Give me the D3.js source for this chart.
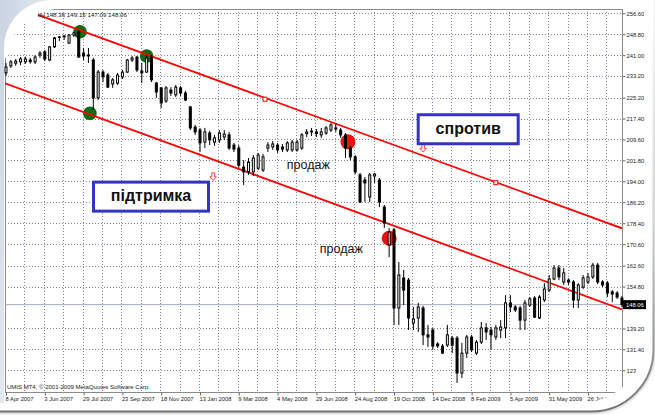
<!DOCTYPE html>
<html><head><meta charset="utf-8">
<script src="https://cdnjs.cloudflare.com/ajax/libs/d3/7.8.5/d3.min.js"></script>
<style>html,body{margin:0;padding:0;background:#fff;overflow:hidden}</style>
</head><body><svg id="c" width="655" height="415"></svg>
<script>
// ---- data (weekly candles, first bar = week of 8 Apr 2007) ----
const opens  = [234.4,237.0,238.0,238.5,238.5,239.2,238.5,241.1,242.2,239.2,244.1,247.6,247.8,245.5,248.5,249.6,241.8,240.7,239.2,225.1,234.7,233.6,230.3,230.6,232.9,234.7,239.2,240.3,235.1,234.7,240.3,230.6,228.8,223.9,228.0,226.2,228.8,226.9,221.7,214.2,213.1,208.6,212.0,208.6,209.4,210.5,211.3,207.5,206.4,199.3,197.5,197.5,198.9,198.2,206.4,206.8,207.5,206.8,205.7,205.7,205.7,206.4,211.8,212.4,212.4,211.3,212.0,213.1,213.5,213.1,211.3,206.4,203.1,196.4,194.5,188.2,196.0,194.5,184.4,170.3,175.9,146.8,158.0,157.2,141.2,143.1,146.8,136.8,138.6,133.4,132.6,133.0,135.6,135.6,122.6,130.0,136.0,130.0,134.1,139.4,138.6,136.0,138.6,139.4,148.7,147.2,146.8,142.3,147.9,150.5,143.1,149.8,153.5,157.6,161.7,156.5,157.2,156.5,149.8,154.6,156.5,158.4,162.8,156.5,156.1,152.8,152.4,150.5];
const highs  = [238.1,239.2,239.6,240.3,240.5,240.0,241.0,242.5,242.9,244.4,247.8,248.1,248.5,248.9,249.6,250.4,243.7,243.7,239.95,235.5,235.5,234.4,232.5,234.4,235.5,239.6,240.7,240.7,238.1,241.1,241.1,231.0,229.1,229.5,229.1,229.9,229.5,227.7,222.1,215.0,213.9,213.9,212.8,211.3,213.1,213.1,212.4,208.3,207.5,201.9,202.7,203.8,204.6,204.2,208.6,209.0,208.3,207.9,209.0,209.4,209.4,212.0,213.5,213.9,213.5,213.9,214.6,215.7,215.4,213.9,212.0,207.2,203.8,197.1,195.6,197.1,197.1,195.2,185.2,176.6,176.6,163.9,161.0,158.0,147.2,148.7,147.6,140.5,139.4,134.1,133.4,140.5,136.4,136.4,133.8,136.8,136.8,134.9,141.6,141.2,139.7,140.5,142.3,151.6,151.6,147.9,147.6,149.8,150.9,151.3,151.6,156.1,159.1,162.8,162.8,161.7,157.9,157.2,156.1,159.1,159.9,163.6,163.6,157.2,156.9,153.5,153.1,151.3];
const lows   = [233.2,236.2,237.0,237.3,237.8,237.8,237.7,240.0,238.8,238.8,243.7,246.3,246.7,245.2,247.8,239.95,239.2,238.1,220.6,224.3,231.0,228.8,228.8,229.9,232.1,234.4,238.5,234.7,230.6,234.4,231.0,225.1,221.3,223.2,225.8,225.4,225.8,223.9,213.1,211.3,204.9,206.4,207.5,207.2,208.3,209.4,205.7,204.9,199.0,192.6,196.4,196.0,198.2,197.5,204.9,205.7,204.6,204.9,204.9,204.9,205.0,205.7,210.5,210.9,210.5,210.2,211.3,212.4,212.4,210.2,202.7,201.9,196.7,185.9,186.3,186.3,193.4,184.4,176.6,165.8,140.5,140.5,147.9,138.6,138.6,137.9,133.0,132.3,131.2,131.9,129.7,132.3,130.0,118.9,120.7,128.2,130.4,129.3,133.4,134.9,131.2,134.9,135.6,135.6,145.3,145.3,138.6,138.6,147.2,143.1,142.7,149.0,152.8,157.2,157.2,155.4,155.4,146.8,146.8,153.9,155.7,157.6,155.7,154.6,150.9,149.0,150.2,147.2];
const closes = [236.6,238.5,238.8,239.6,239.6,238.6,240.3,241.8,239.6,244.1,247.4,247.8,248.2,248.5,249.3,240.3,240.7,241.1,225.1,234.7,232.9,229.1,231.8,233.6,234.7,239.2,239.95,235.5,234.4,239.95,231.8,227.3,223.2,228.8,226.9,229.1,226.9,224.3,213.9,212.4,208.3,212.4,209.4,210.2,212.0,211.6,206.4,206.0,200.0,197.5,201.2,202.7,203.8,203.1,207.5,207.9,205.7,206.0,208.3,208.6,208.6,211.3,212.4,212.7,211.8,212.4,213.9,215.0,213.9,211.3,206.4,203.1,197.5,186.3,193.4,196.4,196.7,186.3,178.5,175.1,146.8,159.1,153.5,143.1,142.7,147.2,136.8,136.0,132.6,132.7,130.0,136.8,133.0,122.6,130.0,136.0,131.2,134.1,139.4,137.9,136.8,139.4,139.7,148.7,147.2,146.1,142.3,148.7,150.2,143.4,150.9,153.9,157.6,161.7,158.4,159.9,156.5,149.8,155.4,158.0,158.4,162.8,156.5,155.4,152.4,152.0,150.9,148.06];

const dateLabels = ["8 Apr 2007","3 Jun 2007","29 Jul 2007","23 Sep 2007","18 Nov 2007","13 Jan 2008","9 Mar 2008","4 May 2008","29 Jun 2008","24 Aug 2008","19 Oct 2008","14 Dec 2008","8 Feb 2009","5 Apr 2009","31 May 2009","26 Jul 2009"];
const dateLabelBars = [0,8,16,24,32,40,48,56,64,72,80,88,96,104,112,120];
const priceTicks = [256.6,248.8,241.0,233.2,225.2,217.4,209.6,201.8,194.0,186.2,178.4,170.6,162.6,154.8,139.2,131.4,123.6];
const priceTickLabels = ["256.60","248.80","241.00","233.20","225.20","217.40","209.60","201.80","194.00","186.20","178.40","170.60","162.60","154.80","139.20","131.40","123.60"];
const lastPrice = 148.06;
const lastPriceLabel = "148.06";
const headerText = "dy 148.36 149.15 147.09 148.06";
const copyrightText = "UMIS MT4, \u00a9 2001-2009 MetaQuotes Software Corp.";

// channel lines [bar, price]
const resistanceLine = [[6.6, 256.0],[127, 176.5]];
const supportLine = [[-0.2, 230.5],[127, 146.3]];
const lineAnchors = [[53.4, 224.6],[101.0, 193.5]];
const greenMarks = [[15.26, 249.75],[29.0, 240.7],[17.3, 219.3]];
const redMarks = [[70.5, 208.7],[79.0, 172.8]];
const sellArrows = [[42.7, 195.7],[86.0, 206.3]];
const sellLabels = [{text:"продаж", bar:57.9, price:198.6},{text:"продаж", bar:64.7, price:167.3}];
const boxes = [{text:"підтримка", bar:29.9, price:188.3, w:115},{text:"спротив", bar:95.3, price:213.4, w:100}];

// ---- scales ----
const L=5, T=9, R=622, B=392;
const x = d3.scaleLinear().domain([0,127]).range([6, 6+4.85*127]);
const y = d3.scaleLinear().domain([123.6,256.6]).range([370.3,13.3]);

const svg = d3.select("#c");
const defs = svg.append("defs");
defs.append("clipPath").attr("id","plot").append("rect").attr("x",L).attr("y",T).attr("width",R-L).attr("height",B-T);
const bg = defs.append("radialGradient").attr("id","blueg").attr("cx",0).attr("cy",0).attr("r",1).attr("gradientUnits","objectBoundingBox");
bg.append("stop").attr("offset","0").attr("stop-color","#c9d4e2");
bg.append("stop").attr("offset","1").attr("stop-color","#e4e9f0");
const sg = defs.append("linearGradient").attr("id","shadow").attr("gradientUnits","userSpaceOnUse")
  .attr("x1",0).attr("y1",0).attr("x2",0).attr("y2",415);
sg.append("stop").attr("offset","0").attr("stop-color","#ffffff");
sg.append("stop").attr("offset","0.55").attr("stop-color","#d0d0d0");
sg.append("stop").attr("offset","1").attr("stop-color","#707070");

const font = "'Liberation Sans', Arial, sans-serif";

// grid
const grid = svg.append("g").attr("stroke","#7f8aa0").attr("stroke-width",1).attr("stroke-dasharray","1,2");
grid.selectAll("line.h").data(priceTicks).join("line")
  .attr("x1",L).attr("x2",R).attr("y1",d=>Math.round(y(d))+0.5).attr("y2",d=>Math.round(y(d))+0.5);
grid.selectAll("line.v").data(d3.range(0,128,4)).join("line")
  .attr("x1",d=>Math.round(x(d))-0.5).attr("x2",d=>Math.round(x(d))-0.5).attr("y1",T).attr("y2",B);

// chart border
svg.append("rect").attr("x",L+0.5).attr("y",T+0.5).attr("width",R-L).attr("height",B-T)
  .attr("fill","none").attr("stroke","#8a8a8a");

// last price line
svg.append("line").attr("x1",L).attr("x2",R).attr("y1",y(lastPrice)).attr("y2",y(lastPrice))
  .attr("stroke","#a3abbb").attr("stroke-width",1);

const plot = svg.append("g").attr("clip-path","url(#plot)");
// circles (background objects)
plot.selectAll("circle.g").data(greenMarks).join("circle")
  .attr("cx",d=>x(d[0])).attr("cy",d=>y(d[1])).attr("r",6.8).attr("fill","#0f6a12");
plot.selectAll("circle.r").data(redMarks).join("circle")
  .attr("cx",d=>x(d[0])).attr("cy",d=>y(d[1])).attr("r",7.5).attr("fill","#f01010");

// candles
const candles = opens.map((o,i)=>({i,o,h:highs[i],l:lows[i],c:closes[i]}));
const cg = svg.append("g");
cg.selectAll("line").data(candles).join("line")
  .attr("x1",d=>x(d.i)).attr("x2",d=>x(d.i)).attr("y1",d=>y(d.h)).attr("y2",d=>y(d.l))
  .attr("stroke","#000").attr("stroke-width",1);
cg.selectAll("rect").data(candles).join("rect")
  .attr("x",d=>x(d.i)-1).attr("width",2)
  .attr("y",d=>y(Math.max(d.o,d.c)))
  .attr("height",d=>Math.max(0.5,Math.abs(y(d.o)-y(d.c))))
  .attr("fill",d=>d.c>=d.o?"#fff":"#000").attr("stroke","#000").attr("stroke-width",1);

// channel lines
const lineGen = d3.line().x(d=>x(d[0])).y(d=>y(d[1]));
plot.append("path").attr("d",lineGen(resistanceLine)).attr("stroke","#ff0000").attr("stroke-width",1.8).attr("fill","none");
plot.append("path").attr("d",lineGen(supportLine)).attr("stroke","#ff0000").attr("stroke-width",1.8).attr("fill","none");
plot.selectAll("rect.anc").data(lineAnchors).join("rect")
  .attr("x",d=>x(d[0])-2).attr("y",d=>y(d[1])-2).attr("width",4).attr("height",4)
  .attr("fill","#fff").attr("stroke","#ff0000").attr("stroke-width",1);
plot.selectAll("path.arr").data(sellArrows).join("path")
  .attr("transform",d=>`translate(${x(d[0])},${y(d[1])})`)
  .attr("d","M-1.3,-4 H1.3 V0 H3.3 L0,3.8 L-3.3,0 H-1.3 Z")
  .attr("fill","#fff").attr("stroke","#ff3030").attr("stroke-width",0.9);

// annotations
svg.selectAll("text.sell").data(sellLabels).join("text")
  .attr("x",d=>x(d.bar)).attr("y",d=>y(d.price))
  .attr("font-family",font).attr("font-size",12.5).attr("fill","#111").text(d=>d.text);
const bgp = svg.selectAll("g.box").data(boxes).join("g")
  .attr("transform",d=>`translate(${x(d.bar)},${y(d.price)})`);
bgp.append("rect").attr("x",d=>-d.w/2).attr("y",-14.5).attr("width",d=>d.w).attr("height",29)
  .attr("fill","#fff").attr("stroke","#3434c4").attr("stroke-width",3);
bgp.append("text").attr("text-anchor","middle").attr("y",4.5)
  .attr("font-family",font).attr("font-weight","bold").attr("font-size",16).attr("fill","#111").text(d=>d.text);

// axes
const yAxis = d3.axisRight(y).tickValues(priceTicks).tickFormat((d,i)=>priceTickLabels[i]).tickSize(3).tickPadding(1);
svg.append("g").attr("transform",`translate(${R+0.5},0)`).call(yAxis)
  .call(g=>g.select(".domain").remove())
  .call(g=>g.selectAll("line").attr("stroke","#666"))
  .call(g=>g.selectAll("text").attr("font-family",font).attr("font-size",5.8).attr("fill","#222"));
const xAxis = d3.axisBottom(x).tickValues(dateLabelBars).tickFormat((d,i)=>dateLabels[i]).tickSize(3).tickPadding(1);
svg.append("g").attr("transform",`translate(0,${B+0.5})`).call(xAxis)
  .call(g=>g.select(".domain").remove())
  .call(g=>g.selectAll("line").attr("stroke","#666"))
  .call(g=>g.selectAll("text").attr("text-anchor","start").attr("dx",-1).attr("font-family",font).attr("font-size",5.8).attr("fill","#222"));

// last price tag
const lp = svg.append("g").attr("transform",`translate(${R+1},${y(lastPrice)})`);
lp.append("rect").attr("x",0).attr("y",-4.5).attr("width",24).attr("height",9).attr("fill","#000");
lp.append("text").attr("x",3).attr("y",2.2).attr("font-family",font).attr("font-size",5.8).attr("fill","#fff").text(lastPriceLabel);

// header & copyright
svg.append("text").attr("x",38).attr("y",16.5).attr("font-family",font).attr("font-size",6)
  .attr("textLength",89).attr("lengthAdjust","spacingAndGlyphs").attr("fill","#222").text(headerText);
svg.append("text").attr("x",7).attr("y",389).attr("font-family",font).attr("font-size",5.8)
  .attr("textLength",143).attr("lengthAdjust","spacingAndGlyphs").attr("fill","#222").text(copyrightText);

// ---- picture frame overlay ----
const fr = svg.append("g");
fr.append("path").attr("d","M0,0 H60 V9 H58 A50,50 0 0 0 8,58 H4 V0 Z").attr("fill","#fff");
fr.append("path").attr("d","M0,0 H52 A48,48 0 0 0 4,48 V415 H0 Z").attr("fill","url(#blueg)");
fr.append("path").attr("d","M646,336 A67,67 0 0 1 579,403 V415 H655 V336 Z").attr("fill","#fff");
fr.append("path").attr("d","M646,0 H655 V415 H646 Z").attr("fill","#fff");
fr.append("path").attr("d","M0,403 H655 V415 H0 Z").attr("fill","#fff");
fr.append("path").attr("d","M0,413 H591.5 A63,63 0 0 0 654.5,350 V0").attr("fill","none")
  .attr("stroke","#e2e2e2").attr("stroke-width",3);
fr.append("path").attr("d","M0,411.5 H591.5 A62,62 0 0 0 653.5,349.5 V0").attr("fill","none")
  .attr("stroke","url(#shadow)").attr("stroke-width",2);
</script></body></html>
